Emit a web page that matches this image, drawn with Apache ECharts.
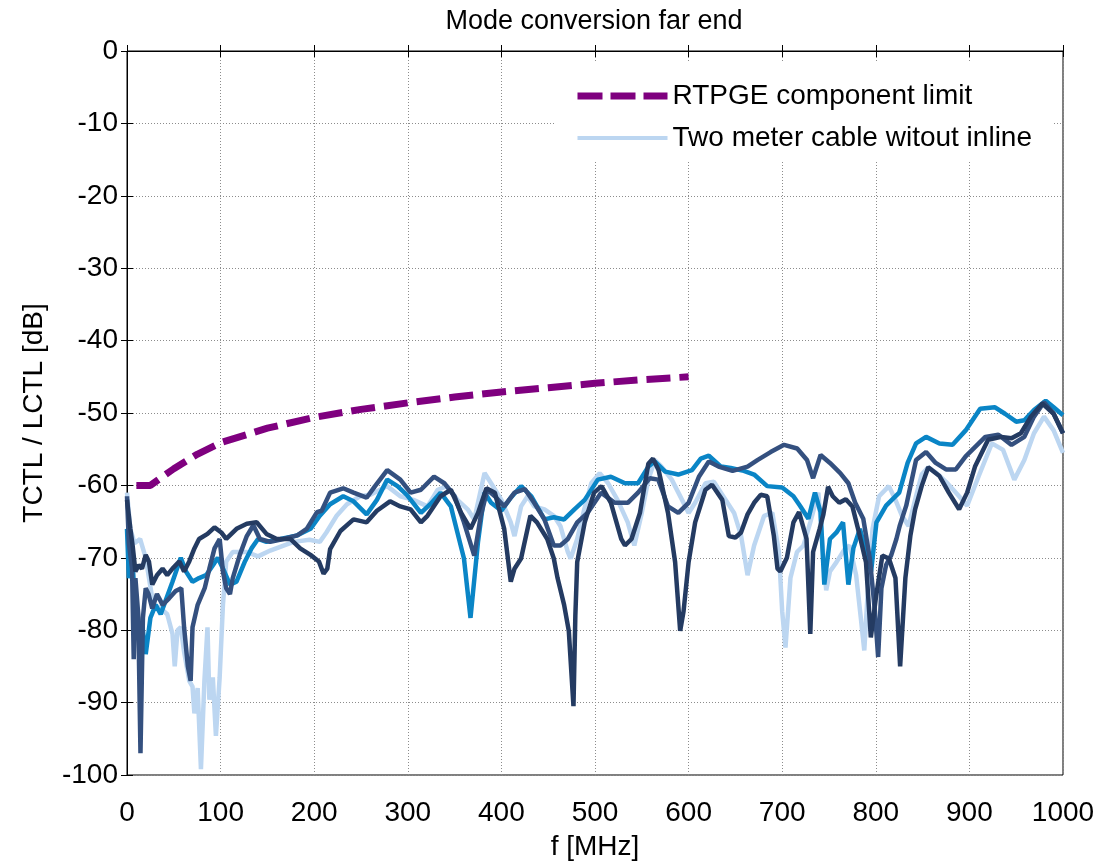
<!DOCTYPE html>
<html>
<head>
<meta charset="utf-8">
<script src="https://cdn.jsdelivr.net/npm/echarts@6/dist/echarts.min.js"></script>
<style>
html,body{margin:0;padding:0;background:#fff;}
#chart{width:1107px;height:866px;}
</style>
</head>
<body>
<div id="chart"></div>
<script>
const titleText = 'Mode conversion far end';
const xName = 'f [MHz]';
const yName = 'TCTL / LCTL [dB]';
const legendNames = ['RTPGE component limit', 'Two meter cable witout inline'];

// RTPGE limit [MHz, dB]
const limitLine = [[10,-60],[25,-60],[40,-58.6],[50,-57.7],[75,-55.7],[100,-54.1],[150,-52.1],[200,-50.6],[250,-49.5],[300,-48.6],[350,-47.8],[400,-47.1],[450,-46.5],[500,-45.9],[550,-45.4],[600,-45.0]];

// Two meter cable without inline (light blue)
const cableLight = [[0,-61],[3.6,-66],[8,-68],[14,-67.4],[20,-70],[28,-76.4],[36,-77],[43,-77.8],[48.6,-80.5],[51,-85],[54,-80],[57.5,-79.6],[61,-83],[66.5,-87],[70,-87.8],[72,-91.5],[75.5,-88],[79,-99.2],[82.7,-87],[86,-79.6],[88,-89.6],[91.7,-86.5],[95,-94.6],[99,-86.5],[102.5,-76.5],[106,-70.5],[113,-69.2],[128,-69.2],[140,-69.8],[153,-69],[178,-67.8],[195,-67.5],[206,-67.8],[213,-66.5],[224,-64.2],[235,-62.6],[249,-61.5],[260,-61.3],[278,-60.1],[292,-61.5],[306,-62],[321,-62.9],[332,-60.6],[342,-60.1],[353,-62],[364,-63.3],[371,-64.7],[382,-58.3],[389,-59.7],[400,-62],[410,-65.1],[414,-67],[421,-62.9],[428,-61.5],[435,-62.9],[446,-63.3],[456,-64.2],[463,-65.6],[471,-69.2],[474,-70.1],[481,-67.4],[488.5,-63.3],[496,-59.7],[505,-58.3],[514,-59.7],[524,-62],[535,-65.1],[542,-68.3],[550,-63.8],[557,-59.2],[564,-56.5],[571,-57.4],[582,-59.2],[593,-62],[600,-63.8],[607,-62.4],[618,-59.7],[627,-59.5],[639.6,-62],[648.6,-63.8],[656,-66.9],[663,-72.4],[670,-68.3],[680.7,-64.2],[689.5,-63.8],[696.5,-69.2],[700,-77.4],[703.5,-82.4],[708.8,-72.8],[715.8,-69.2],[722.8,-68.3],[730,-65.1],[738.6,-61],[743,-68],[747,-74.5],[751,-71.9],[758,-70.6],[766.7,-68.8],[772,-68.3],[779,-72.4],[784,-78.3],[787.7,-82.8],[791,-75.6],[796.5,-66],[803.5,-61.5],[814,-60.1],[821,-62],[828,-64.2],[835,-65.6],[842,-62],[849,-58.5],[856,-57.5],[865,-58.3],[875,-59.5],[889,-61.5],[897.6,-62.8],[910,-58.7],[924,-54.2],[936,-55.1],[948,-59.2],[958.7,-56.5],[969,-52.8],[979.7,-50.5],[990,-52.4],[1000,-55.5]];

// Second cable (bright blue)
const cableBright = [[0,-66],[2,-72.8],[5.4,-69.6],[8,-75],[12,-80],[16,-79],[20,-83.3],[25,-78.3],[30.6,-76.5],[36,-77.8],[41,-76],[48.6,-73.3],[57.5,-70],[63,-71.9],[70,-73.3],[77,-72.8],[84.5,-72.4],[92,-71],[97,-70],[104,-71.9],[110,-73.7],[117,-73.3],[126,-70.5],[133,-68.7],[140,-67.4],[149,-67.8],[164,-67.4],[182,-66.9],[196,-66],[206,-64.2],[217,-62.6],[231,-61.5],[242,-62.2],[256,-64],[267,-62],[278,-59.2],[289,-60.1],[299,-61.3],[314,-63.8],[324,-62.6],[335,-61],[346,-62.9],[353,-66.5],[360,-70.1],[367,-78.3],[375,-67.8],[382,-61],[389,-62.4],[400,-63.5],[410,-61.7],[421,-60.1],[432,-61.5],[446,-64.7],[456,-64.4],[467,-64.7],[478,-63.3],[489,-62],[503,-59.2],[517,-58.8],[532,-59.7],[546,-59.7],[557,-57.4],[564,-56.7],[575,-58.1],[589,-58.5],[603.6,-57.9],[613,-56.3],[621.6,-55.9],[634.6,-57.4],[645,-57.6],[659,-58],[670,-58.5],[684,-60.1],[700,-60.3],[712,-61.5],[719,-62.8],[728,-64.6],[735,-61],[741,-63.7],[745,-73.7],[751,-67.4],[758,-66.5],[765,-65.1],[770.7,-73.7],[776,-68.7],[783,-66],[790,-69.2],[795,-71.9],[800.7,-65.1],[811,-62.8],[825,-61],[834,-56.9],[843,-54.2],[853.7,-53.3],[868,-54.2],[882,-54.4],[896,-52.4],[911.5,-49.4],[927,-49.2],[938,-50.1],[950,-51.2],[958.7,-51],[969,-49.6],[981.5,-48.3],[990,-49.2],[1000,-50.3]];

// Third cable (mid navy)
const cableMid = [[0,-61.5],[2,-68],[5.4,-71.5],[7.2,-84],[9,-72.8],[12,-77.8],[14.4,-97],[17,-78.3],[20,-74.2],[23,-75],[27,-77],[32,-75],[38,-76.5],[45,-75.6],[52,-74.6],[58,-74.2],[61,-79.6],[65,-85],[68,-87],[70,-79.6],[75.5,-76.5],[83,-74.2],[88,-71.5],[93.5,-68.7],[99,-67.4],[102.5,-71.9],[106,-74.2],[110,-75],[113,-72.8],[120.5,-69.6],[128,-67],[135,-65.5],[142,-67.4],[153,-67.8],[167,-67.4],[182,-66.9],[192,-66],[203,-63.7],[208,-63.5],[217,-61],[231,-60.4],[242,-61],[256,-61.7],[265,-60.1],[278,-57.9],[292,-59.2],[303,-61],[314,-60.6],[328,-58.8],[339,-59.7],[350,-61.5],[360,-65.1],[371,-69.7],[378,-64.2],[385,-60.6],[393,-61.5],[403,-62.9],[414,-61],[425,-60.5],[435,-62.4],[446,-64.7],[456,-68.3],[463,-68.3],[471,-67.4],[481,-65.1],[492,-63.8],[506.5,-61],[521,-62.4],[535,-62.4],[546,-61],[558.6,-59],[567.6,-59.2],[578,-62.9],[589,-63.8],[600,-62.4],[611,-58.8],[621.6,-56.7],[632,-57.4],[647,-58],[663,-57.4],[673.5,-56.5],[687.6,-55.4],[702,-54.4],[716,-54.9],[726.5,-56.5],[733,-59],[741,-55.8],[751,-56.9],[762,-58.3],[770.7,-59.7],[778,-62.4],[786.6,-64.6],[793.6,-70.1],[799,-77.3],[802.5,-83.7],[806,-74.2],[811,-71],[816.6,-69.6],[822,-67.4],[825.5,-65.6],[832.5,-62.8],[843,-56.5],[853.7,-55.4],[864,-56.9],[875,-57.8],[885.5,-57.8],[896,-56],[903,-55.1],[917,-53.3],[931,-53],[945,-54.4],[958.7,-53.3],[969,-50.5],[979.7,-48.5],[990,-50.1],[1000,-52.8]];

// Fourth cable (dark navy)
const cableDark = [[0,-62],[3.6,-66],[6,-68.3],[9,-71.9],[12.6,-71],[16,-71.5],[20,-69.6],[23.4,-70.5],[27,-73.7],[32,-72.4],[38,-71.5],[43,-72.4],[48.6,-71.5],[56,-70.5],[61,-71.9],[66.5,-70.5],[72,-68.7],[77,-67.4],[86,-66.7],[93.5,-65.8],[100.7,-66.5],[106,-67.4],[117,-66],[128,-65.3],[138.5,-65.1],[149,-66.7],[160,-67.4],[174.5,-67.4],[185,-68.7],[196,-69.6],[205,-70.5],[210,-72.2],[214,-71.5],[217,-68.8],[228,-66.3],[242,-64.7],[256,-65.1],[267,-63.5],[281,-62.2],[292,-62.9],[303,-63.3],[314,-65.1],[321,-64.2],[335,-61.5],[346,-60.6],[357,-63.8],[367,-66],[375,-63.8],[384,-60.4],[393,-61],[403,-66],[410,-73.3],[414,-71.5],[421,-70.1],[431,-64.2],[438,-65.1],[449,-67.4],[456,-70.1],[460,-72.8],[467,-76.5],[472,-80.1],[477,-90.5],[479,-78],[481,-70.6],[489,-65.1],[499,-61],[507,-60.1],[517,-62.4],[528,-67.4],[532,-68.3],[539,-67.4],[548,-63.8],[557,-57],[562,-56.3],[568,-57.9],[578,-63.8],[585.6,-70.6],[591,-80.1],[594.6,-77.4],[600,-70.6],[607,-65.1],[618,-60.6],[625,-59.9],[636,-62],[643,-67],[650,-67.2],[656,-66.5],[663,-64],[670,-62.4],[677,-61.3],[684,-61.5],[691,-66.9],[695,-71.5],[698,-71.9],[705,-70],[712,-65.1],[718,-63.7],[726,-67.4],[730,-80.5],[733,-69.2],[740,-66],[744,-64],[749,-60.2],[754,-61.5],[761,-62.4],[768,-61.9],[775,-62.9],[782,-66.5],[789.5,-70.6],[794.7,-81],[800,-75.6],[807,-69.7],[814,-70.1],[821,-72.8],[826,-85],[831.6,-72.8],[837,-66.9],[842,-63.3],[849,-60.1],[856,-57.5],[868,-58.7],[878,-61],[889,-63.3],[897.6,-61],[906,-57.4],[920,-53.7],[934,-53.3],[945,-53.5],[955,-52.8],[965.7,-50.5],[978,-48.7],[990,-50.1],[1000,-52.8]];

const FONT = '"Liberation Sans", Arial, Helvetica, sans-serif';
const chart = echarts.init(document.getElementById('chart'), null, {renderer: 'canvas'});

const gridLine = {show: true, lineStyle: {color: '#8c8c8c', type: [1, 2], width: 1}};
const tickStyle = {show: true, inside: true, length: 6, lineStyle: {color: '#000', width: 1}};
const LW = 4.5;

chart.setOption({
  animation: false,
  backgroundColor: '#fff',
  title: {
    text: titleText, left: 589, top: 3, textAlign: 'center',
    textStyle: {fontFamily: FONT, fontSize: 27, fontWeight: 'normal', color: '#000'}
  },
  legend: {
    data: [
      {name: legendNames[0], lineStyle: {width: 7, type: [25, 8], color: '#7F007F'}},
      {name: legendNames[1], lineStyle: {width: 4, color: '#BCD6F1'}}
    ],
    orient: 'vertical', left: 556, top: 62,
    padding: [20, 22, 10, 18], itemGap: 14, itemWidth: 90, itemHeight: 14,
    itemStyle: {opacity: 0},
    backgroundColor: '#fff', borderWidth: 0,
    textStyle: {fontFamily: FONT, fontSize: 28, color: '#000'}
  },
  grid: {left: 127, top: 51, right: 44, bottom: 87, show: true, borderColor: '#000', borderWidth: 1},
  xAxis: [{
    type: 'value', min: 0, max: 1000, interval: 100, position: 'bottom',
    name: xName, nameLocation: 'middle', nameGap: 58,
    nameTextStyle: {fontFamily: FONT, fontSize: 28, color: '#000'},
    axisLine: {show: true, lineStyle: {color: '#000', width: 1}},
    axisTick: tickStyle,
    axisLabel: {fontFamily: FONT, fontSize: 28, color: '#000', margin: 24, formatter: function (v) { return String(v); }},
    splitLine: gridLine
  }, {
    type: 'value', min: 0, max: 1000, interval: 100, position: 'top',
    axisLine: {show: true, lineStyle: {color: '#000'}}, axisTick: tickStyle,
    axisLabel: {show: false}, splitLine: {show: false}
  }],
  yAxis: [{
    type: 'value', min: -100, max: 0, interval: 10, position: 'left',
    name: yName, nameLocation: 'middle', nameGap: 79,
    nameTextStyle: {fontFamily: FONT, fontSize: 28, color: '#000'},
    axisLine: {show: true, lineStyle: {color: '#000', width: 1}},
    axisTick: tickStyle,
    axisLabel: {fontFamily: FONT, fontSize: 28, color: '#000', margin: 9},
    splitLine: gridLine
  }, {
    type: 'value', min: -100, max: 0, interval: 10, position: 'right',
    axisLine: {show: true, lineStyle: {color: '#000'}}, axisTick: tickStyle,
    axisLabel: {show: false}, splitLine: {show: false}
  }],
  series: [
    {name: legendNames[0], type: 'line', data: limitLine, symbol: 'none', z: 3,
     lineStyle: {color: '#7F007F', width: 7, type: [24, 9]}, itemStyle: {color: '#7F007F'}},
    {name: legendNames[1], type: 'line', data: cableLight, symbol: 'none', z: 2,
     lineStyle: {color: '#BCD6F1', width: LW}, itemStyle: {color: '#BCD6F1'}},
    {name: 'cable B', type: 'line', data: cableBright, symbol: 'none', z: 2,
     lineStyle: {color: '#0A85C6', width: LW}, itemStyle: {color: '#0A85C6'}},
    {name: 'cable C', type: 'line', data: cableMid, symbol: 'none', z: 2,
     lineStyle: {color: '#34507F', width: LW}, itemStyle: {color: '#34507F'}},
    {name: 'cable D', type: 'line', data: cableDark, symbol: 'none', z: 2,
     lineStyle: {color: '#243B62', width: LW}, itemStyle: {color: '#243B62'}}
  ]
});
</script>
</body>
</html>
